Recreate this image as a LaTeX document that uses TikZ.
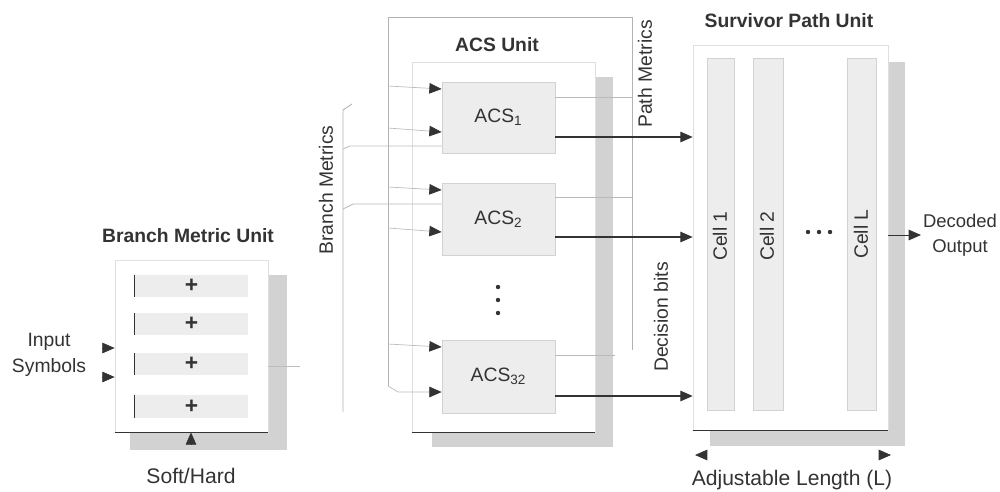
\documentclass[tikz,border=0pt]{standalone}
\usepackage{fontspec}
\setmainfont{Liberation Sans}
\usetikzlibrary{arrows.meta,fit,calc}
\definecolor{ink}{HTML}{333333}
\definecolor{boxfill}{HTML}{EDEDED}
\definecolor{shadowc}{HTML}{D2D2D2}
\definecolor{wire}{HTML}{BDBDBD}
\begin{document}
\begin{tikzpicture}[x=0.02cm,y=-0.02cm,
  title/.style={font=\bfseries\fontsize{11}{13}\selectfont, text=ink, inner sep=1pt},
  lbl/.style={font=\fontsize{11}{14.5}\selectfont, text=ink, inner sep=1pt},
  panel/.style={fill=white, draw=gray!25, line width=0.4pt, inner sep=0pt},
  slot/.style={fill=boxfill, draw=gray!35, line width=0.4pt, inner sep=0pt},
  shade/.style={fill=shadowc},
  tipst/.style={-{Triangle[length=7pt,width=6pt,color=ink]}},
  outarrow/.style={draw=ink, line width=0.6pt, tipst},
  inarrow/.style={draw=wire, line width=0.4pt, tipst},
  headonly/.style={draw=ink, line width=0.4pt, tipst},
  frame/.style={draw=gray!60, line width=0.5pt},
  pm/.style={draw=gray!55, line width=0.5pt}]
\useasboundingbox (0,0) rectangle (1000,491);

% ---------------- Branch Metric Unit ----------------
\node[title] (bmut) at (188,236) {Branch Metric Unit};
\fill[shade] (130,275) rectangle (287,450);
\node[panel, fit={(115,260) (268,432)}] (bmu) {};
\draw[ink, line width=0.5pt] (bmu.south west) -- (bmu.south east);
\foreach \i/\ya/\yb in {1/275/297, 2/313/335, 3/353/375, 4/395/418}{
  \node[slot, draw=none, fit={(135,\ya) (248,\yb)}] (r\i) {};
  \draw[ink, line width=0.4pt] (r\i.north west) -- (r\i.south west);
  \node[font=\bfseries\fontsize{13}{15}\selectfont, text=ink] (p\i) at (r\i.center) {+};
}
\node[lbl, align=center] (ins) at (49,355) {Input\\Symbols};
\coordinate (in1) at (102,348);
\coordinate (in2) at (102,377);
\draw[headonly] (in1) -- (bmu.west |- in1);
\draw[headonly] (in2) -- (bmu.west |- in2);
\node[lbl, font=\fontsize{12}{14}\selectfont] (sh) at (191,476) {Soft/Hard};
\coordinate (shtip) at (191,445);
\draw[headonly] (shtip) -- (bmu.south -| shtip);
\coordinate (bmo) at (300,366);
\draw[wire, line width=0.5pt] (bmu.east |- bmo) -- (bmo);

% ---------------- Branch Metrics bracket ----------------
\node[lbl, rotate=90] (bml) at (326,190) {Branch Metrics};
\coordinate (bt) at (352,104);
\coordinate (bb) at (343,412);
\draw[gray!60, line width=0.5pt] (bt) -- (343,110) -- (bb);

% ---------------- ACS Unit ----------------
\node[title] (acst) at (497,45) {ACS Unit};
\fill[shade] (432,77) rectangle (613,447);
\node[panel, fit={(412,62) (595,432)}] (acsu) {};
\draw[ink, line width=0.5pt] (acsu.south west) -- (acsu.south east);
\node[slot, fit={(442,82) (555,153)}] (acs1) {};
\node[slot, fit={(442,183) (555,255)}] (acs2) {};
\node[slot, fit={(442,340) (555,413)}] (acs32) {};
\node[lbl] at (acs1.center) {ACS\textsubscript{1}};
\node[lbl] at (acs2.center) {ACS\textsubscript{2}};
\node[lbl] at (acs32.center) {ACS\textsubscript{32}};
\foreach \y in {287,300,313} \fill[ink] (498,\y) circle (2.2);

% branch metric wires
\draw[wire, line width=0.5pt] (343,149) -- (350,146) -- (acs1.west |- 0,146);
\draw[gray!55, line width=0.5pt] (343,209) -- (353,204) -- (acs2.west |- 0,204);

% path metric frame
\coordinate (fb) at (388,386);
\coordinate (fr) at (632,350);
\draw[frame] (fb) -- (388,17) -- (632,17) -- (fr);

% ACS inputs
\draw[inarrow] (388,86) -- (acs1.west |- 0,89);
\draw[inarrow] (388,128) -- (acs1.west |- 0,132);
\draw[inarrow] (388,187) -- (acs2.west |- 0,190);
\draw[inarrow] (388,228) -- (acs2.west |- 0,232);
\draw[inarrow] (388,344) -- (acs32.west |- 0,347);
\draw[inarrow] (fb) -- (398,392) -- (acs32.west |- 0,392);

% path metric feedback
\draw[pm] (acs1.east |- 0,97) -- (632,97);
\draw[pm] (acs2.east |- 0,197) -- (632,197);
\draw[pm] (acs32.east |- 0,355) -- (615,355);

\node[lbl, rotate=90] (pml) at (645,74) {Path Metrics};
\node[lbl, rotate=90] (dbl) at (661,317) {Decision bits};

% ---------------- Survivor Path Unit ----------------
\node[title] (sput) at (789,21) {Survivor Path Unit};
\fill[shade] (710,62) rectangle (905,446);
\node[panel, fit={(693,45) (888,430)}] (spu) {};
\draw[ink, line width=0.5pt] (spu.south west) -- (spu.south east);
\node[slot, fit={(707,58) (734,410)}] (c1) {};
\node[slot, fit={(753,58) (783,410)}] (c2) {};
\node[slot, fit={(847,58) (876,410)}] (cL) {};
\node[lbl, rotate=90] at (720,236) {Cell 1};
\node[lbl, rotate=90] at (767,236) {Cell 2};
\node[lbl, rotate=90] at (861,234) {Cell L};
\foreach \x in {808,819,830} \fill[ink] (\x,232) circle (2.2);

% decision outputs
\draw[outarrow] (acs1.east |- 0,137) -- (spu.west |- 0,137);
\draw[outarrow] (acs2.east |- 0,237) -- (spu.west |- 0,237);
\draw[outarrow] (acs32.east |- 0,396) -- (spu.west |- 0,396);

% decoded output
\node[lbl, align=center, font=\fontsize{10.5}{14.5}\selectfont] (dec) at (960,235) {Decoded\\Output};
\draw[outarrow, line width=0.5pt] (spu.east |- dec) -- (dec.west);

% adjustable length
\coordinate (al) at (695,455);
\coordinate (ar) at (891,455);
\draw[draw=white, {Triangle[length=7pt,width=6pt,color=ink]}-{Triangle[length=7pt,width=6pt,color=ink]}] (al) -- (ar);
\node[lbl, font=\fontsize{12}{14}\selectfont] (adj) at (792,480) {Adjustable Length (L)};
\end{tikzpicture}
\end{document}
